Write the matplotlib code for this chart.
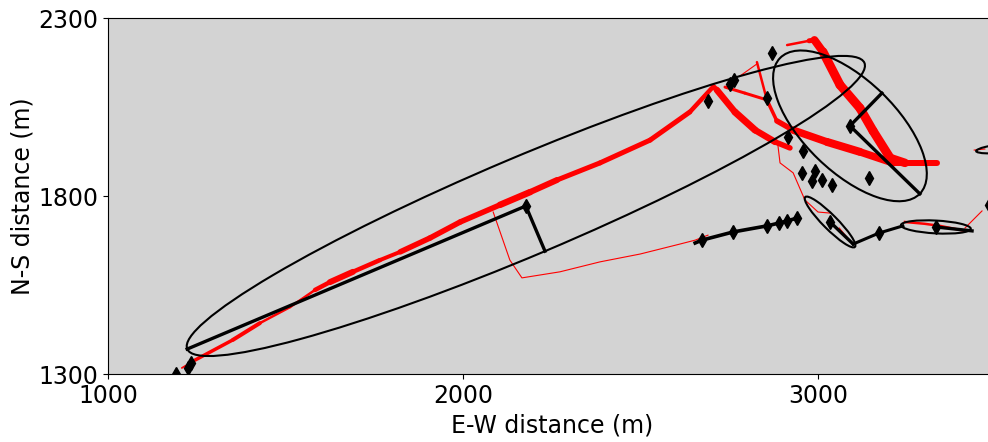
import numpy as np
import matplotlib
matplotlib.use("Agg")
import matplotlib.pyplot as plt
from matplotlib.patches import Ellipse
from matplotlib.collections import LineCollection

# fracture traces (x, y in m) and local aperture width (px)
main_x = [1208, 1245, 1352, 1428, 1513, 1583, 1625, 1690, 1766, 1823, 1907, 1992,
          2104, 2189, 2265, 2386, 2527, 2639, 2701]
main_y = [1317, 1339, 1396, 1443, 1488, 1536, 1558, 1587, 1620, 1643, 1682, 1727,
          1775, 1811, 1845, 1893, 1957, 2036, 2103]
main_w = [1.5, 2, 5, 3, 2, 3, 6, 6, 3, 5, 6, 5, 6, 7, 5, 5, 5, 5, 4]

ne_x = [2913, 2975, 2990, 3014, 3062, 3118, 3155, 3203, 3245, 3335]
ne_y = [2224, 2236, 2238, 2205, 2112, 2047, 1983, 1907, 1893, 1893]
ne_w = [2, 3, 7, 9, 9, 9, 9, 9, 8, 4]

brA_x = [2705, 2715, 2766, 2823, 2879, 2921]
brA_y = [2108, 2098, 2036, 1985, 1952, 1935]
brA_w = [4, 6, 7, 7, 6, 5]

brB_x = [2828, 2856, 2884, 2930, 3025, 3118, 3211, 3329]
brB_y = [2176, 2070, 2011, 1985, 1952, 1924, 1893, 1893]
brB_w = [2, 3, 4, 7, 8, 8, 7, 5]

brC_x = [2738, 2794, 2856]
brC_y = [2106, 2089, 2070]
brC_w = [3, 3, 3]

thin_traces = [
    ([2780, 2828], [2137, 2171]),
    ([2085, 2132, 2166, 2273, 2386, 2499, 2611, 2654, 2690],
     [1755, 1620, 1570, 1587, 1615, 1637, 1665, 1676, 1690]),
    ([2887, 2893, 2930, 2963, 3000, 3034], [1943, 1893, 1865, 1789, 1755, 1752]),
    ([3060, 3085, 3099], [1710, 1680, 1665]),
    ([3414, 3462], [1710, 1758]),
    ([3440, 3470], [1929, 1932]),
]
flat_trace_x = [3245, 3300, 3344, 3414]
flat_trace_y = [1727, 1722, 1716, 1702]

# events (diamonds)
ev_x = [1192, 1225, 1234, 2177, 3090, 2870, 2763, 2752, 2690, 2856, 2915, 2958,
        2955, 2992, 2983, 3011, 3039, 3144, 2673, 2761, 2856, 2890, 2913, 2941,
        3034, 3172, 3332, 3482]
ev_y = [1300, 1317, 1331, 1772, 1997, 2202, 2126, 2115, 2067, 2075, 1966, 1926,
        1865, 1870, 1842, 1845, 1831, 1851, 1676, 1699, 1716, 1724, 1730, 1738,
        1727, 1696, 1713, 1775]

# ellipses: centre, full width, full height, angle
ell_cx = [2177, 3090, 3034, 3332, 3540]
ell_cy = [1772, 1997, 1727, 1713, 1936]
ell_w = [2070, 548, 198, 197, 190]
ell_h = [276, 258, 40, 36, 26]
ell_ang = [22.85, -44, -45, -3, 6]

# principal axis lines (from centre to end)
axis_x0 = [2177, 2177, 3090, 3090, 3034, 3332]
axis_y0 = [1772, 1772, 1997, 1997, 1727, 1713]
axis_x1 = [1223, 2231, 3287, 3180, 3099, 3434]
axis_y1 = [1370, 1645, 1806, 2089, 1665, 1702]

# linked event chains
chain1_x = [2654, 2673, 2761, 2856, 2890, 2913, 2941]
chain1_y = [1668, 1676, 1699, 1716, 1724, 1730, 1738]
chain2_x = [3099, 3172, 3239]
chain2_y = [1665, 1696, 1716]


def draw_trace(ax, xs, ys, ws, color='red'):
    pts = np.column_stack([xs, ys])
    segs = [pts[i:i + 2] for i in range(len(pts) - 1)]
    widths = [(ws[i] + ws[i + 1]) / 2 * 0.72 for i in range(len(ws) - 1)]
    lc = LineCollection(segs, linewidths=widths, colors=color,
                        capstyle='round', joinstyle='round', zorder=2)
    ax.add_collection(lc)


fig = plt.figure(figsize=(9.88, 4.42), dpi=100)
ax = fig.add_axes([108 / 988, 68 / 442, 887.5 / 988, 356 / 442])
ax.set_facecolor('lightgray')

for xs, ys, ws in [(main_x, main_y, main_w), (ne_x, ne_y, ne_w),
                   (brA_x, brA_y, brA_w), (brB_x, brB_y, brB_w),
                   (brC_x, brC_y, brC_w)]:
    draw_trace(ax, xs, ys, ws)

for xs, ys in thin_traces:
    ax.plot(xs, ys, color='red', linewidth=0.8, zorder=2)
ax.plot(flat_trace_x, flat_trace_y, color='red', linewidth=1.8, zorder=2)

for cx, cy, w, h, a in zip(ell_cx, ell_cy, ell_w, ell_h, ell_ang):
    ax.add_patch(Ellipse((cx, cy), w, h, angle=a, fill=False,
                         edgecolor='black', linewidth=1.5, zorder=3))

for x0, y0, x1, y1 in zip(axis_x0, axis_y0, axis_x1, axis_y1):
    ax.plot([x0, x1], [y0, y1], color='black', linewidth=2.4, zorder=3)

ax.plot(chain1_x, chain1_y, color='black', linewidth=2.6, zorder=3)
ax.plot(chain2_x, chain2_y, color='black', linewidth=2.2, zorder=3)

ax.plot(ev_x, ev_y, 'kd', markersize=7.5, zorder=4)

ax.set_xlim(1000, 3500)
ax.set_ylim(1300, 2300)
ax.set_xticks([1000, 2000, 3000])
ax.set_yticks([1300, 1800, 2300])
ax.tick_params(labelsize=17)
ax.set_xlabel('E-W distance (m)', fontsize=17, labelpad=4)
ax.set_ylabel('N-S distance (m)', fontsize=17, labelpad=2.5)

fig.savefig('out.png', dpi=100)
